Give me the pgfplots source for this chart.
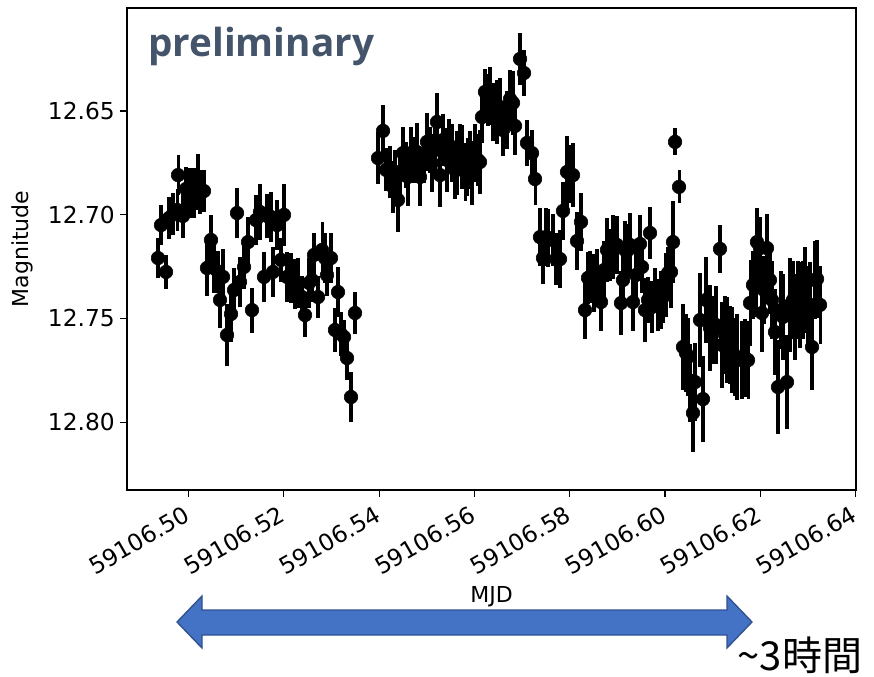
\documentclass[border=0pt]{standalone}
\usepackage{pgfplots}
\pgfplotsset{compat=1.18}
\usepackage{pgfplotstable}
\usepackage{fontspec}
\setmainfont{DejaVu Sans}
\newfontfamily\jpfont{Noto Sans CJK JP}
\newfontfamily\prelimfont{Open Sans}
\definecolor{prelim}{HTML}{44546A}
\definecolor{arrowfill}{HTML}{4472C4}
\definecolor{arrowedge}{HTML}{2F528F}

% t = MJD - 59106 ; m = magnitude ; e = 1-sigma error
\pgfplotstableread{
t m e
0.49360 12.7209 0.0095
0.49423 12.7050 0.0095
0.49528 12.7276 0.0081
0.49591 12.7016 0.0101
0.49675 12.6997 0.0101
0.49759 12.6977 0.0101
0.49780 12.6809 0.0095
0.49884 12.7006 0.0108
0.49947 12.6876 0.0108
0.50031 12.6895 0.0122
0.50115 12.6895 0.0122
0.50199 12.6842 0.0134
0.50241 12.6891 0.0108
0.50325 12.6886 0.0101
0.50388 12.7257 0.0134
0.50472 12.7122 0.0122
0.50535 12.7257 0.0122
0.50619 12.7276 0.0101
0.50661 12.7411 0.0134
0.50724 12.7300 0.0134
0.50808 12.7580 0.0148
0.50892 12.7479 0.0134
0.50955 12.7363 0.0108
0.51018 12.6992 0.0122
0.51081 12.7324 0.0122
0.51165 12.7252 0.0108
0.51249 12.7132 0.0122
0.51332 12.7460 0.0108
0.51416 12.7026 0.0122
0.51500 12.6987 0.0134
0.51584 12.7300 0.0122
0.51647 12.7006 0.0108
0.51731 12.7011 0.0122
0.51773 12.7276 0.0122
0.51857 12.7050 0.0122
0.51941 12.7218 0.0108
0.52004 12.7001 0.0148
0.52067 12.7300 0.0122
0.52151 12.7305 0.0122
0.52235 12.7334 0.0122
0.52298 12.7329 0.0122
0.52382 12.7397 0.0101
0.52445 12.7484 0.0108
0.52529 12.7329 0.0122
0.52592 12.7315 0.0108
0.52634 12.7194 0.0108
0.52718 12.7397 0.0101
0.52802 12.7170 0.0134
0.52864 12.7209 0.0122
0.52906 12.7291 0.0101
0.52990 12.7209 0.0122
0.53074 12.7556 0.0108
0.53137 12.7373 0.0122
0.53200 12.7575 0.0108
0.53263 12.7590 0.0081
0.53326 12.7691 0.0108
0.53410 12.7879 0.0122
0.53494 12.7474 0.0101
0.53977 12.6727 0.0126
0.54082 12.6596 0.0126
0.54145 12.6784 0.0104
0.54229 12.6794 0.0126
0.54291 12.6866 0.0126
0.54333 12.6794 0.0104
0.54396 12.6929 0.0154
0.54438 12.6809 0.0126
0.54501 12.6703 0.0126
0.54564 12.6760 0.0112
0.54606 12.6818 0.0139
0.54669 12.6703 0.0126
0.54732 12.6736 0.0112
0.54795 12.6698 0.0139
0.54858 12.6818 0.0139
0.54942 12.6736 0.0112
0.55005 12.6649 0.0139
0.55068 12.6688 0.0112
0.55110 12.6751 0.0139
0.55173 12.6688 0.0126
0.55215 12.6553 0.0139
0.55278 12.6809 0.0154
0.55341 12.6640 0.0126
0.55425 12.6736 0.0154
0.55467 12.6664 0.0126
0.55530 12.6703 0.0139
0.55593 12.6784 0.0139
0.55635 12.6751 0.0154
0.55698 12.6688 0.0126
0.55740 12.6722 0.0154
0.55803 12.6794 0.0139
0.55845 12.6770 0.0139
0.55907 12.6736 0.0139
0.55949 12.6799 0.0154
0.56012 12.6703 0.0139
0.56075 12.6736 0.0126
0.56117 12.6746 0.0154
0.56159 12.6529 0.0126
0.56222 12.6408 0.0112
0.56285 12.6447 0.0126
0.56327 12.6428 0.0139
0.56390 12.6505 0.0139
0.56474 12.6505 0.0154
0.56537 12.6481 0.0139
0.56600 12.6592 0.0126
0.56684 12.6543 0.0139
0.56747 12.6442 0.0139
0.56810 12.6461 0.0154
0.56852 12.6572 0.0139
0.56957 12.6249 0.0126
0.57041 12.6317 0.0112
0.57104 12.6654 0.0112
0.57209 12.6703 0.0112
0.57272 12.6828 0.0126
0.57376 12.7108 0.0139
0.57439 12.7209 0.0126
0.57502 12.7108 0.0139
0.57544 12.7112 0.0139
0.57649 12.7122 0.0126
0.57712 12.7214 0.0126
0.57796 12.7214 0.0139
0.57859 12.6982 0.0139
0.57943 12.6794 0.0175
0.58006 12.6804 0.0139
0.58069 12.6809 0.0154
0.58153 12.7127 0.0139
0.58237 12.7035 0.0139
0.58321 12.7460 0.0139
0.58384 12.7305 0.0126
0.58426 12.7300 0.0126
0.58510 12.7329 0.0139
0.58573 12.7291 0.0126
0.58657 12.7421 0.0139
0.58720 12.7267 0.0139
0.58782 12.7170 0.0154
0.58845 12.7194 0.0126
0.58908 12.7156 0.0154
0.58992 12.7146 0.0139
0.59076 12.7426 0.0154
0.59118 12.7315 0.0126
0.59160 12.7170 0.0139
0.59223 12.7170 0.0126
0.59265 12.7146 0.0154
0.59328 12.7421 0.0139
0.59391 12.7291 0.0139
0.59475 12.7141 0.0139
0.59517 12.7252 0.0126
0.59580 12.7460 0.0154
0.59643 12.7411 0.0112
0.59685 12.7088 0.0126
0.59727 12.7445 0.0126
0.59790 12.7363 0.0104
0.59853 12.7435 0.0126
0.59916 12.7411 0.0139
0.59958 12.7397 0.0126
0.60021 12.7339 0.0154
0.60063 12.7281 0.0126
0.60126 12.7276 0.0175
0.60168 12.7132 0.0196
0.60210 12.6649 0.0065
0.60294 12.6866 0.0080
0.60377 12.7638 0.0209
0.60440 12.7667 0.0188
0.60482 12.7686 0.0188
0.60524 12.7811 0.0188
0.60587 12.7956 0.0188
0.60629 12.7807 0.0188
0.60734 12.7508 0.0225
0.60797 12.7889 0.0209
0.60860 12.7411 0.0209
0.60944 12.7546 0.0209
0.61007 12.7556 0.0164
0.61070 12.7532 0.0188
0.61154 12.7165 0.0115
0.61196 12.7628 0.0209
0.61259 12.7580 0.0188
0.61301 12.7604 0.0209
0.61364 12.7628 0.0188
0.61406 12.7652 0.0209
0.61469 12.7686 0.0188
0.61511 12.7686 0.0209
0.61616 12.7701 0.0188
0.61679 12.7691 0.0188
0.61742 12.7701 0.0188
0.61784 12.7426 0.0209
0.61846 12.7339 0.0164
0.61909 12.7329 0.0164
0.61930 12.7132 0.0164
0.61993 12.7161 0.0149
0.62035 12.7474 0.0188
0.62077 12.7363 0.0164
0.62140 12.7161 0.0164
0.62203 12.7315 0.0164
0.62245 12.7411 0.0188
0.62308 12.7566 0.0209
0.62371 12.7831 0.0225
0.62434 12.7460 0.0188
0.62476 12.7493 0.0209
0.62560 12.7807 0.0225
0.62623 12.7435 0.0225
0.62686 12.7411 0.0188
0.62728 12.7493 0.0209
0.62791 12.7411 0.0188
0.62833 12.7435 0.0209
0.62896 12.7411 0.0188
0.62938 12.7363 0.0209
0.63001 12.7435 0.0188
0.63043 12.7435 0.0209
0.63085 12.7638 0.0209
0.63148 12.7315 0.0188
0.63190 12.7310 0.0188
0.63253 12.7435 0.0188
}\lcdata

\begin{document}
\begin{tikzpicture}[x=1pt,y=1pt]
\useasboundingbox (0,0) rectangle (655.5,507);
\begin{axis}[
  at={(95.25pt,139.5pt)}, anchor=south west,
  scale only axis, width=546.75pt, height=361.5pt,
  xmin=0.48709, xmax=0.64008,
  ymin=12.60034, ymax=12.83274,
  y dir=reverse,
  axis line style={line width=0.9pt},
  tick align=outside, major tick length=5pt,
  every tick/.style={black, line width=0.9pt},
  xtick={0.50,0.52,0.54,0.56,0.58,0.60,0.62,0.64},
  xticklabels={59106.50,59106.52,59106.54,59106.56,59106.58,59106.60,59106.62,59106.64},
  ytick={12.65,12.70,12.75,12.80},
  yticklabels={12.65,12.70,12.75,12.80},
  xtick pos=bottom, ytick pos=left,
  ticklabel style={font=\fontsize{17.5}{20}\selectfont},
  xticklabel style={rotate=30, anchor=north east, inner sep=2pt, xshift=-4.5pt, yshift=-1pt},
  yticklabel style={inner sep=4pt},
  /pgf/number format/assume math mode=true,
  xlabel={MJD}, ylabel={Magnitude},
  label style={font=\fontsize{16.5}{19}\selectfont},
  xlabel style={at={(axis description cs:0.5,-0.222)}, anchor=center},
  ylabel style={at={(axis description cs:-0.144,0.5)}, anchor=center, rotate=0},
]
\addplot[only marks, mark=*, mark size=5.1pt, black,
  error bars/.cd, y dir=both, y explicit, error mark=none,
  error bar style={line width=2.3pt, black}]
  table[x=t, y=m, y error=e] {\lcdata};
\end{axis}
\node[anchor=base west, text=prelim, font=\prelimfont\bfseries\fontsize{29}{34}\selectfont, inner sep=0pt] at (111,464.25) {preliminary};
\filldraw[fill=arrowfill, draw=arrowedge, line width=1pt]
  (132.75,40.5) -- (151.5,60) -- (151.5,49.5) -- (545.25,49.5) -- (545.25,60)
  -- (564,40.5) -- (545.25,21) -- (545.25,30.75) -- (151.5,30.75) -- (151.5,21) -- cycle;
\node[anchor=base west, font=\jpfont\fontsize{30}{34}\selectfont, inner sep=0pt] at (553,4) {\textasciitilde 3時間};
\end{tikzpicture}
\end{document}
